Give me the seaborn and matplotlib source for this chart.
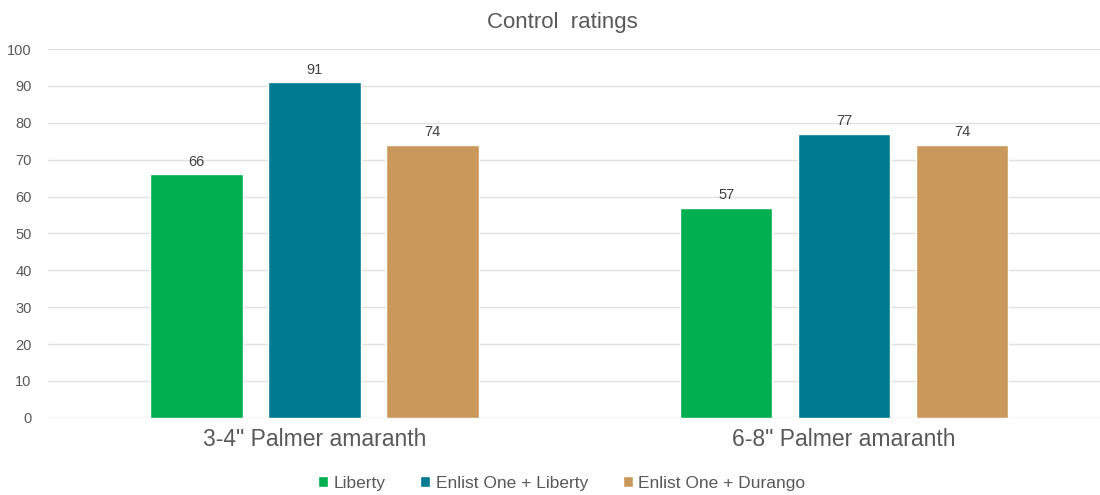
import matplotlib
matplotlib.use("Agg")
import matplotlib.pyplot as plt
import seaborn as sns
import pandas as pd

# Data
categories = ['3-4" Palmer amaranth', '6-8" Palmer amaranth']
treatments = ["Liberty", "Enlist One + Liberty", "Enlist One + Durango"]
liberty = [66, 57]
enlist_liberty = [91, 77]
enlist_durango = [74, 74]
colors = ["#00B050", "#007A91", "#C9985A"]

df = pd.DataFrame({
    "category": categories * 3,
    "treatment": [t for t in treatments for _ in categories],
    "rating": liberty + enlist_liberty + enlist_durango,
})

sns.set_style("white")
plt.rcParams["font.family"] = ["Liberation Sans", "DejaVu Sans"]

fig = plt.figure(figsize=(11, 4.95), dpi=100)
ax = fig.add_axes([0.044, 0.156, 0.956, 0.745])

sns.barplot(data=df, x="category", y="rating", hue="treatment",
            hue_order=treatments, palette=colors, width=0.668, gap=0.215,
            saturation=1, ax=ax, legend=True)

# value labels
for cont in ax.containers:
    ax.bar_label(cont, fmt="%d", padding=4, fontsize=10.5, color="#404040")

ax.set_ylim(0, 100)
ax.set_yticks(range(0, 101, 10))
ax.set_xlim(-0.502, 1.483)
ax.yaxis.grid(True, color="#E0E0E0", linewidth=1)
ax.set_axisbelow(True)
for s in ax.spines.values():
    s.set_visible(False)
ax.tick_params(axis="y", length=0, labelsize=10.5, labelcolor="#595959", pad=12)
ax.tick_params(axis="x", length=0, labelsize=16.5, labelcolor="#595959", pad=7)
ax.set_xlabel("")
ax.set_ylabel("")
fig.suptitle("Control  ratings", x=0.511, y=0.975, fontsize=16, color="#595959")

ax.legend(loc="upper center", bbox_to_anchor=(0.488, -0.115), ncol=3,
          frameon=False, fontsize=12.5, handlelength=0.6, handleheight=0.6,
          handletextpad=0.3, columnspacing=2.0, labelcolor="#595959")

fig.savefig("out.png", dpi=100)
